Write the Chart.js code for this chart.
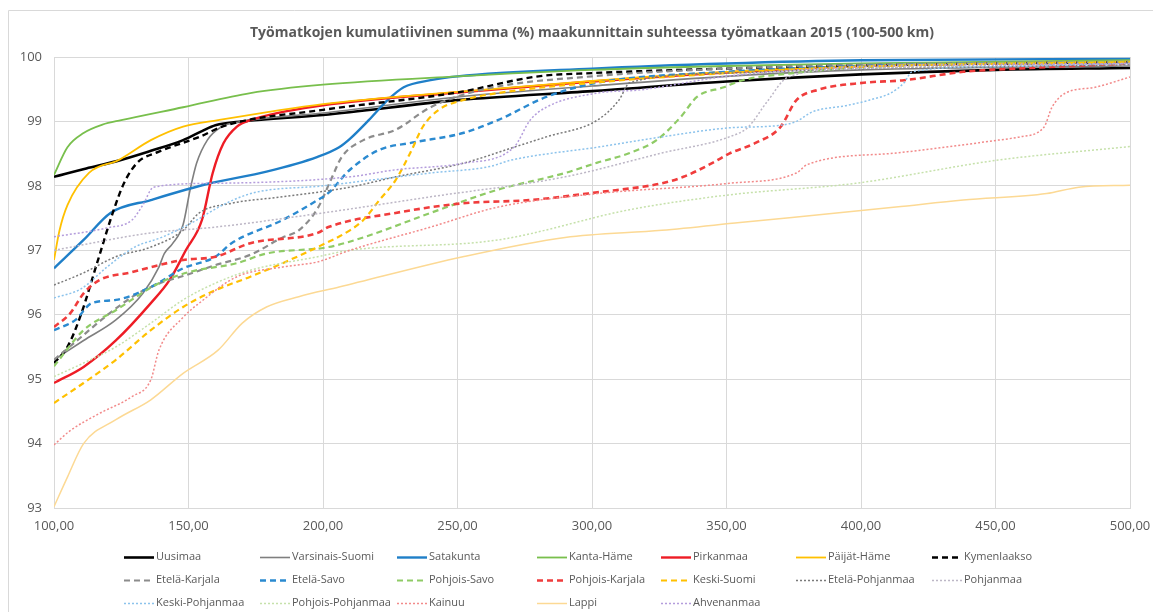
<!DOCTYPE html>
<html><head><meta charset="utf-8">
<script src="https://cdn.jsdelivr.net/npm/chart.js@4.4.1/dist/chart.umd.min.js"></script>
<style>html,body{margin:0;padding:0;background:#fff}#wrap{width:1153px;height:612px;position:relative}</style>
</head><body><div id="wrap"><canvas id="c" width="1153" height="612"></canvas></div>
<script>
const titleText = "Työmatkojen kumulatiivinen summa (%) maakunnittain suhteessa työmatkaan 2015 (100-500 km)";
const regions = ["Uusimaa","Varsinais-Suomi","Satakunta","Kanta-Häme","Pirkanmaa","Päijät-Häme","Kymenlaakso",
  "Etelä-Karjala","Etelä-Savo","Pohjois-Savo","Pohjois-Karjala","Keski-Suomi","Etelä-Pohjanmaa","Pohjanmaa",
  "Keski-Pohjanmaa","Pohjois-Pohjanmaa","Kainuu","Lappi","Ahvenanmaa"];
const xMin = 100, xMax = 500, xStep = 50;
const yMin = 93, yMax = 100, yStep = 1;

// [distance km, cumulative %]
const uusimaa = [[100,98.14],[112,98.27],[123,98.38],[135,98.53],[148,98.71],[155,98.85],[160,98.94],[170,99.0],[200,99.1],[250,99.33],[300,99.47],[350,99.62],[400,99.73],[450,99.8],[500,99.83]];
const varsinaisSuomi = [[100,95.3],[111,95.6],[123,95.92],[133,96.33],[139,96.74],[141,96.95],[144,97.1],[148,97.4],[150.6,97.94],[153,98.35],[157,98.71],[162,98.91],[170,99.0],[200,99.13],[250,99.38],[300,99.55],[350,99.7],[400,99.8],[500,99.86]];
const satakunta = [[100,96.72],[111,97.16],[121,97.58],[136,97.78],[158,98.04],[179,98.22],[198,98.45],[206,98.6],[210,98.73],[217,99.02],[224,99.33],[230,99.53],[240,99.64],[250,99.7],[300,99.82],[350,99.9],[400,99.95],[500,99.97]];
const kantaHame = [[100,98.17],[105,98.6],[111,98.82],[118,98.95],[125,99.02],[148,99.22],[173,99.44],[200,99.57],[250,99.7],[300,99.8],[350,99.86],[400,99.9],[500,99.95]];
const pirkanmaa = [[100,94.94],[111,95.19],[123,95.6],[136,96.18],[143,96.54],[149,97.0],[155,97.47],[159,98.2],[163,98.66],[168,98.92],[173,99.02],[200,99.25],[250,99.45],[300,99.62],[350,99.76],[400,99.86],[500,99.92]];
const paijatHame = [[100,96.85],[102,97.3],[105,97.7],[113,98.2],[124,98.4],[136,98.71],[148,98.92],[161,99.02],[200,99.27],[250,99.46],[300,99.63],[350,99.77],[400,99.86],[500,99.93]];
const kymenlaakso = [[100,95.25],[105,95.5],[110,96.0],[116,96.8],[122,97.6],[126,98.04],[131,98.36],[139,98.53],[154,98.76],[164,98.94],[200,99.18],[250,99.45],[280,99.7],[300,99.75],[350,99.82],[400,99.87],[500,99.92]];
const etelaKarjala = [[100,95.3],[110,95.65],[120,96.0],[130,96.3],[140,96.5],[148,96.6],[160,96.77],[173,96.93],[185,97.2],[191,97.31],[198,97.65],[203,98.1],[207,98.45],[215,98.71],[227,98.87],[240,99.22],[260,99.5],[300,99.7],[350,99.82],[400,99.88],[500,99.93]];
const etelaSavo = [[100,95.76],[108,95.92],[114,96.18],[123,96.23],[136,96.43],[148,96.72],[160,96.9],[166,97.11],[185,97.47],[198,97.78],[202,97.89],[210,98.25],[221,98.56],[233,98.67],[252,98.82],[265,99.02],[283,99.38],[302,99.6],[350,99.77],[400,99.86],[500,99.92]];
const pohjoisSavo = [[100,95.2],[111,95.76],[123,96.07],[139,96.49],[150,96.66],[168,96.8],[179,96.95],[202,97.05],[215,97.2],[240,97.58],[265,97.94],[290,98.2],[302,98.36],[314,98.51],[324,98.71],[333,99.07],[339,99.38],[349,99.53],[356,99.64],[375,99.75],[400,99.84],[500,99.93]];
const pohjoisKarjala = [[100,95.81],[106,96.02],[111,96.33],[117,96.54],[129,96.66],[139,96.77],[148,96.85],[160,96.9],[173,97.11],[198,97.27],[202,97.36],[227,97.58],[252,97.73],[277,97.78],[302,97.9],[326,98.04],[334,98.14],[345,98.36],[351,98.5],[361,98.67],[370,98.91],[376,99.33],[384,99.49],[401,99.6],[416,99.64],[438,99.77],[463,99.83],[500,99.9]];
const keskiSuomi = [[100,94.63],[111,94.94],[123,95.3],[136,95.76],[148,96.12],[160,96.38],[173,96.59],[185,96.8],[198,97.05],[210,97.31],[215,97.47],[221,97.78],[227,98.09],[233,98.56],[237,98.91],[243,99.18],[252,99.33],[265,99.44],[300,99.6],[350,99.75],[400,99.85],[500,99.92]];
const etelaPohjanmaa = [[100,96.46],[111,96.65],[123,96.9],[136,97.05],[148,97.31],[154,97.58],[166,97.73],[185,97.83],[210,97.98],[227,98.14],[252,98.35],[271,98.6],[283,98.76],[302,99.02],[310,99.33],[314,99.6],[350,99.75],[400,99.82],[500,99.88]];
const pohjanmaa = [[100,97.0],[136,97.27],[160,97.36],[200,97.58],[240,97.83],[290,98.14],[326,98.51],[351,98.76],[358,98.91],[365,99.3],[373,99.69],[400,99.82],[500,99.9]];
const keskiPohjanmaa = [[100,96.26],[110,96.4],[120,96.75],[130,97.05],[140,97.2],[150,97.4],[165,97.75],[175,97.9],[200,98.0],[210,98.05],[240,98.2],[262,98.3],[270,98.4],[302,98.6],[326,98.76],[351,98.9],[370,98.94],[376,99.0],[382,99.15],[395,99.25],[403,99.33],[411,99.44],[416,99.6],[419,99.77],[450,99.85],[500,99.9]];
const pohjoisPohjanmaa = [[100,95.04],[111,95.25],[123,95.5],[136,95.87],[148,96.23],[160,96.49],[173,96.69],[198,96.9],[210,97.0],[265,97.16],[314,97.63],[351,97.86],[398,98.04],[451,98.4],[500,98.61]];
const kainuu = [[100,93.98],[106,94.2],[117,94.47],[129,94.73],[136,94.99],[139,95.45],[148,95.96],[154,96.18],[168,96.59],[185,96.74],[198,96.82],[210,97.0],[240,97.36],[265,97.67],[302,97.88],[351,98.04],[376,98.2],[380,98.33],[413,98.51],[451,98.71],[459,98.76],[468,98.91],[471,99.22],[476,99.44],[487,99.53],[500,99.69]];
const lappi = [[100,93.02],[105,93.48],[111,94.0],[123,94.37],[136,94.68],[148,95.09],[161,95.45],[170,95.87],[179,96.12],[191,96.28],[206,96.43],[252,96.9],[290,97.2],[326,97.31],[355,97.43],[413,97.67],[438,97.78],[469,97.88],[481,97.98],[500,98.01]];
const ahvenanmaa = [[100,97.21],[120,97.35],[129,97.47],[133,97.7],[137,97.98],[160,98.04],[210,98.14],[227,98.25],[252,98.35],[271,98.6],[277,99.02],[283,99.22],[302,99.44],[318,99.49],[350,99.7],[400,99.85],[500,99.9]];

const seriesValues = [uusimaa,varsinaisSuomi,satakunta,kantaHame,pirkanmaa,paijatHame,kymenlaakso,
  etelaKarjala,etelaSavo,pohjoisSavo,pohjoisKarjala,keskiSuomi,etelaPohjanmaa,pohjanmaa,
  keskiPohjanmaa,pohjoisPohjanmaa,kainuu,lappi,ahvenanmaa];

const DASH=[6,4], DOT=[2,2];
const seriesStyles = [
  {c:'#000000',w:2.6,d:[]},
  {c:'#7f7f7f',w:1.6,d:[]},
  {c:'#1f7fc8',w:2.4,d:[]},
  {c:'#78bf4c',w:1.8,d:[]},
  {c:'#ee1c25',w:2.4,d:[]},
  {c:'#ffc000',w:1.8,d:[]},
  {c:'#000000',w:2.4,d:DASH},
  {c:'#8c8c8c',w:2.2,d:DASH},
  {c:'#2b8ad0',w:2.4,d:DASH},
  {c:'#8fcb66',w:2.2,d:DASH},
  {c:'#f03c3c',w:2.6,d:DASH},
  {c:'#ffc000',w:2.2,d:DASH},
  {c:'#7a7a7a',w:1.5,d:DOT},
  {c:'#bdb7c6',w:1.5,d:DOT},
  {c:'#8cc3ec',w:1.5,d:DOT},
  {c:'#c6e1ab',w:1.5,d:DOT},
  {c:'#f28a8a',w:1.5,d:DOT},
  {c:'#fcd994',w:1.5,d:[]},
  {c:'#b49ddc',w:1.5,d:DOT}
];

const FONT = "'Open Sans', sans-serif";
const legendCols = [124,260,397,537,661,796,932];
const legendRows = [557,580,603];

const datasets = regions.map((name,i)=>({
  label:name, data:seriesValues[i], borderColor:seriesStyles[i].c, backgroundColor:seriesStyles[i].c,
  borderWidth:seriesStyles[i].w, borderDash:seriesStyles[i].d, pointRadius:0, fill:false,
  cubicInterpolationMode:'monotone', order: regions.length - i
}));

const decor = {
  id:'decor',
  afterDraw(chart){
    const ctx = chart.ctx, a = chart.chartArea;
    ctx.save();
    ctx.strokeStyle='#d9d9d9'; ctx.lineWidth=1; ctx.setLineDash([]);
    ctx.beginPath(); ctx.moveTo(8.5,612); ctx.lineTo(8.5,10.5); ctx.lineTo(1153,10.5); ctx.stroke();
    ctx.fillStyle='#595959'; ctx.font="bold 14px "+FONT; ctx.textAlign='center'; ctx.textBaseline='middle';
    ctx.fillText(titleText,(a.left+a.right)/2,33);
    ctx.font="11px "+FONT; ctx.textAlign='left';
    chart.data.datasets.forEach((ds,i)=>{
      const x = legendCols[i%7], y = legendRows[Math.floor(i/7)];
      ctx.strokeStyle=ds.borderColor; ctx.lineWidth=ds.borderWidth; ctx.setLineDash(ds.borderDash||[]);
      ctx.beginPath(); ctx.moveTo(x,y+0.5); ctx.lineTo(x+30,y+0.5); ctx.stroke();
      ctx.fillStyle='#595959'; ctx.fillText(ds.label,x+32,y);
    });
    ctx.restore();
  }
};

new Chart(document.getElementById('c'),{
  type:'line',
  data:{datasets},
  options:{
    responsive:false, animation:false, devicePixelRatio:1,
    layout:{padding:{left:8,right:23,top:57,bottom:74}},
    plugins:{legend:{display:false},tooltip:{enabled:false},title:{display:false}},
    scales:{
      x:{type:'linear',min:xMin,max:xMax,
        afterFit(s){s.height=30; s.paddingLeft=0; s.paddingRight=0;},
        ticks:{stepSize:xStep,color:'#595959',font:{family:FONT,size:13},padding:10,maxRotation:0,
          callback:v=>v.toFixed(2).replace('.',',')},
        grid:{color:'#d9d9d9',drawTicks:false},border:{color:'#d9d9d9'}},
      y:{min:yMin,max:yMax,
        afterFit(s){s.width=46; s.paddingTop=0; s.paddingBottom=0;},
        ticks:{stepSize:yStep,color:'#595959',font:{family:FONT,size:13},padding:12},
        grid:{color:'#d9d9d9',drawTicks:false},border:{color:'#d9d9d9'}}
    }
  },
  plugins:[decor]
});
</script></body></html>
